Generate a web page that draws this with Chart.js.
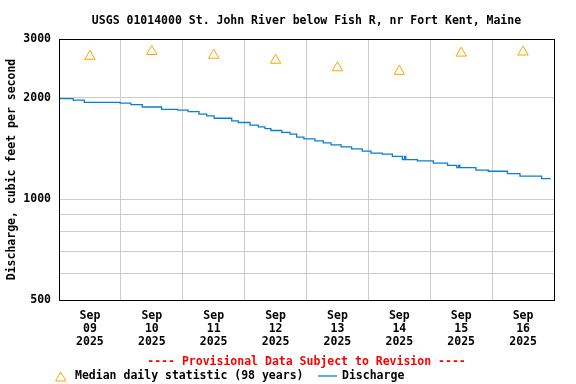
<!DOCTYPE html>
<html>
<head>
<meta charset="utf-8">
<title>USGS 01014000 discharge</title>
<script src="https://cdn.jsdelivr.net/npm/chart.js@4.4.1/dist/chart.umd.min.js"></script>
<style>
  body { margin: 0; background: #fff; }
  #wrap { width: 576px; height: 384px; }
</style>
</head>
<body>
<div id="wrap"><canvas id="chart" width="576" height="384"></canvas></div>
<script>
// Hours since Sep 09 2025 00:00 where the discharge steps to a new value (cfs)
const stepHours = [0, 5.5, 9.8, 23.7, 27.9, 32.3, 39.8, 46, 50.1, 54.3, 57.3, 60.2, 67, 69.5,
    74.1, 77.3, 79.9, 82.2, 86.4, 89.6, 92.2, 95, 99.3, 102.5, 105.5, 109.4, 113.5, 117.6,
    121, 125.4, 129.3, 133.2, 134, 134.5, 139, 145.2, 150.7, 154.3, 155, 155.5, 161.7,
    166.5, 173.9, 178.8, 187.2];
const stepValues = [1990, 1970, 1940, 1930, 1910, 1880, 1850, 1840, 1820, 1790, 1770, 1740, 1710, 1690,
    1660, 1640, 1620, 1600, 1580, 1560, 1530, 1510, 1490, 1470, 1450, 1430, 1410, 1390,
    1370, 1360, 1340, 1310, 1340, 1310, 1300, 1280, 1260, 1240, 1260, 1240, 1220,
    1210, 1190, 1170, 1150];
const lastHour = 190.75;

// Median daily statistic, plotted at noon of each day
const medianHours = [12, 36, 60, 84, 108, 132, 156, 180];
const medianValues = [2660, 2750, 2680, 2590, 2460, 2400, 2720, 2740];

const dayLabels = ['09', '10', '11', '12', '13', '14', '15', '16'];
const yTickValues = [500, 600, 700, 800, 900, 1000, 2000, 3000];
const yLabelValues = [500, 1000, 2000, 3000];

const FONT = "'DejaVu Sans Mono', monospace";
const LINE_BLUE = '#0a7fd0';

// Build the line points from the step arrays
const dischargePoints = stepHours.map((h, i) => ({ x: h, y: stepValues[i] }));
dischargePoints.push({ x: lastHour, y: stepValues[stepValues.length - 1] });

const medianPoints = medianHours.map((h, i) => ({ x: h, y: medianValues[i] }));

// Frame around the plot plus the legend line under the chart
const framePlugin = {
    id: 'frame',
    afterDraw(chart) {
        const ctx = chart.ctx;
        const a = chart.chartArea;
        ctx.save();
        ctx.strokeStyle = '#000';
        ctx.lineWidth = 1;
        ctx.strokeRect(Math.round(a.left) + 0.5, Math.round(a.top) + 0.5,
            Math.round(a.right - a.left), Math.round(a.bottom - a.top));

        // legend
        const ly = 376.5;
        ctx.font = 'bold 11.5px ' + FONT;
        ctx.textBaseline = 'middle';
        ctx.fillStyle = '#000';

        const tx = 60.8, ty = ly + 1.5, r = 6;
        ctx.beginPath();
        ctx.moveTo(tx, ty - r);
        ctx.lineTo(tx + Math.sin(Math.PI / 3) * r, ty + r / 2);
        ctx.lineTo(tx - Math.sin(Math.PI / 3) * r, ty + r / 2);
        ctx.closePath();
        ctx.strokeStyle = '#ffa500';
        ctx.stroke();
        ctx.fillText('Median daily statistic (98 years)', 75, ly);

        ctx.beginPath();
        ctx.moveTo(318, ly - 0.5);
        ctx.lineTo(337, ly - 0.5);
        ctx.strokeStyle = LINE_BLUE;
        ctx.lineWidth = 1.3;
        ctx.stroke();
        ctx.fillText('Discharge', 342, ly);
        ctx.restore();
    }
};

const chart = new Chart(document.getElementById('chart'), {
    type: 'line',
    data: {
        datasets: [
            {
                label: 'Discharge',
                data: dischargePoints,
                borderColor: LINE_BLUE,
                borderWidth: 1.3,
                stepped: true,
                pointRadius: 0,
                fill: false
            },
            {
                label: 'Median daily statistic (98 years)',
                data: medianPoints,
                showLine: false,
                pointStyle: 'triangle',
                pointRadius: 6,
                pointBorderWidth: 1,
                pointBorderColor: '#ffa500',
                pointBackgroundColor: 'rgba(255,255,255,0)'
            }
        ]
    },
    options: {
        responsive: false,
        animation: false,
        layout: { padding: { left: 0, right: 22, top: 0, bottom: 15 } },
        font: { family: FONT },
        plugins: {
            legend: { display: false },
            tooltip: { enabled: false },
            title: {
                display: true,
                text: 'USGS 01014000 St. John River below Fish R, nr Fort Kent, Maine',
                color: '#000',
                fullSize: false,
                font: { family: FONT, size: 11.5, weight: 'bold', lineHeight: 1.2 },
                padding: { top: 14, bottom: 11 }
            },
            subtitle: {
                display: true,
                position: 'bottom',
                fullSize: false,
                weight: 500,
                text: '---- Provisional Data Subject to Revision ----',
                color: '#ff0000',
                font: { family: FONT, size: 11.5, weight: 'bold', lineHeight: 1.2 },
                padding: { top: 6, bottom: 0 }
            }
        },
        scales: {
            x: {
                type: 'linear',
                min: 0,
                max: 192,
                afterBuildTicks(scale) {
                    const t = [];
                    for (let h = 0; h <= 192; h += 12) t.push({ value: h });
                    scale.ticks = t;
                },
                afterFit(scale) {
                    scale.height = 49;
                },
                ticks: {
                    autoSkip: false,
                    maxRotation: 0,
                    padding: 9,
                    color: '#000',
                    font: { family: FONT, size: 11.5, weight: 'bold', lineHeight: 1.13 },
                    callback(value) {
                        if (value % 24 !== 12) return '';
                        return ['Sep', dayLabels[Math.floor(value / 24)], '2025'];
                    }
                },
                grid: {
                    drawTicks: false,
                    color(ctx) {
                        const v = ctx.tick ? ctx.tick.value : 0;
                        return (v % 24 === 0 && v > 0 && v < 192) ? '#cccccc' : 'rgba(0,0,0,0)';
                    }
                },
                border: { display: false }
            },
            y: {
                type: 'logarithmic',
                min: 500,
                max: 3000,
                afterBuildTicks(scale) {
                    scale.ticks = yTickValues.map(v => ({ value: v }));
                },
                afterFit(scale) {
                    scale.width = 59;
                },
                ticks: {
                    autoSkip: false,
                    padding: 8,
                    color: '#000',
                    font: { family: FONT, size: 11.5, weight: 'bold' },
                    callback(value) {
                        return yLabelValues.includes(value) ? String(value) : '';
                    }
                },
                grid: {
                    drawTicks: false,
                    color(ctx) {
                        const v = ctx.tick ? ctx.tick.value : 0;
                        return (v > 500 && v < 3000) ? '#cccccc' : 'rgba(0,0,0,0)';
                    }
                },
                border: { display: false },
                title: {
                    display: true,
                    text: 'Discharge, cubic feet per second',
                    color: '#000',
                    font: { family: FONT, size: 11.5, weight: 'bold', lineHeight: 1.2 },
                    padding: { top: 5, bottom: 0 }
                }
            }
        }
    },
    plugins: [framePlugin]
});
</script>
</body>
</html>
